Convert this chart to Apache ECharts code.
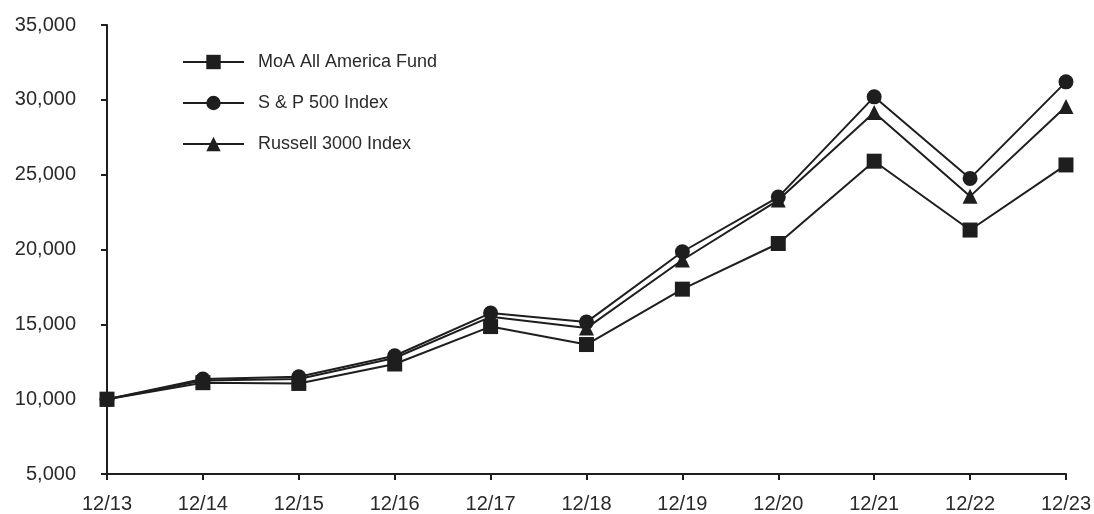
<!DOCTYPE html>
<html>
<head>
<meta charset="utf-8">
<script src="https://cdn.jsdelivr.net/npm/echarts@6/dist/echarts.min.js"></script>
<style>html,body{margin:0;padding:0;background:#fff}#c{width:1094px;height:514px}</style>
</head>
<body>
<div id="c"></div>
<script>
const categories = ['12/13','12/14','12/15','12/16','12/17','12/18','12/19','12/20','12/21','12/22','12/23'];
const moaFund = [10000, 11100, 11050, 12350, 14850, 13650, 17350, 20400, 25900, 21300, 25650];
const sp500 = [10000, 11350, 11500, 12900, 15750, 15150, 19850, 23500, 30200, 24750, 31200];
const russell3000 = [10000, 11250, 11350, 12750, 15500, 14750, 19300, 23300, 29150, 23550, 29550];
const seriesNames = ['MoA All America Fund', 'S & P 500 Index', 'Russell 3000 Index'];

const chart = echarts.init(document.getElementById('c'));
const ink = '#1e1e1e';
const txt = '#2a2a2a';
const ff = 'Liberation Sans, Arial, Helvetica, sans-serif';
function mk(name, data, symbol, size) {
  return {
    name, type: 'line', data, symbol, symbolSize: size,
    lineStyle: { color: ink, width: 2 },
    itemStyle: { color: ink },
    z: 2
  };
}
chart.setOption({
  animation: false,
  backgroundColor: '#fff',
  grid: { left: 107, right: 28, top: 25, bottom: 40 },
  legend: {
    orient: 'vertical', left: 177, top: 48,
    itemWidth: 61, itemHeight: 18, itemGap: 23,
    textStyle: { fontFamily: ff, fontSize: 18, color: txt, padding: [0, 0, 0, 9] },
    data: seriesNames
  },
  xAxis: {
    type: 'category', data: categories, boundaryGap: false,
    axisLine: { lineStyle: { color: ink, width: 2 } },
    axisTick: { alignWithLabel: true, length: 6, lineStyle: { color: ink, width: 2 } },
    axisLabel: { fontFamily: ff, fontSize: 20, color: txt, margin: 20 },
    splitLine: { show: false }
  },
  yAxis: {
    type: 'value', min: 5000, max: 35000, interval: 5000,
    axisLine: { show: true, lineStyle: { color: ink, width: 2 } },
    axisTick: { show: true, length: 6, lineStyle: { color: ink, width: 2 } },
    axisLabel: {
      fontFamily: ff, fontSize: 20, color: txt, margin: 31,
      formatter: v => v.toLocaleString('en-US')
    },
    splitLine: { show: false }
  },
  series: [
    mk(seriesNames[0], moaFund, 'rect', 15),
    mk(seriesNames[1], sp500, 'circle', 15),
    mk(seriesNames[2], russell3000, 'triangle', 15)
  ]
});
</script>
</body>
</html>
